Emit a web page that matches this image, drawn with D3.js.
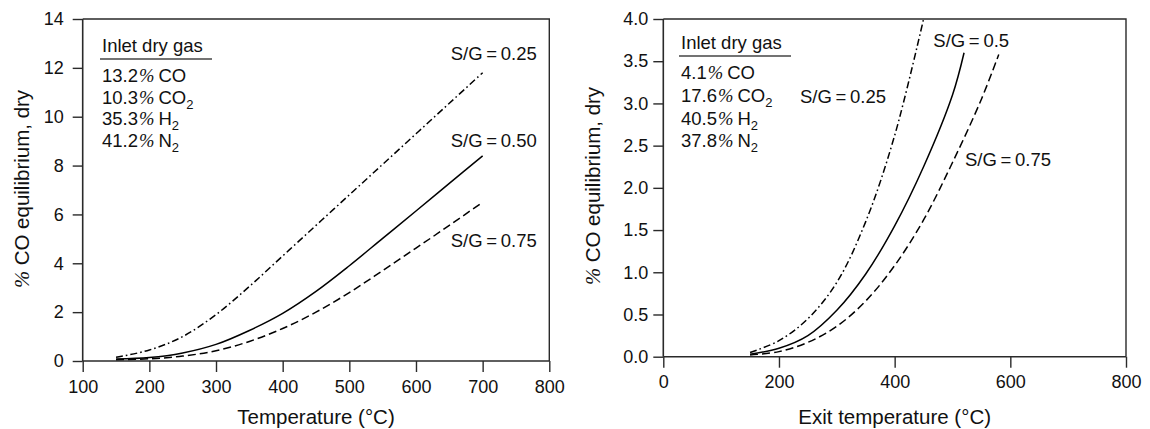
<!DOCTYPE html>
<html><head><meta charset="utf-8">
<script src="https://cdn.jsdelivr.net/npm/d3@7"></script>
<style>
body{margin:0;background:#fff;}
svg text{font-family:"Liberation Sans",Arial,Helvetica,sans-serif;fill:#111;}
</style></head>
<body><svg id="c" width="1150" height="429"></svg>
<script>
// ---------- data ----------
const leftTemps = [150,200,250,300,350,400,450,500,550,600,650,700];
const leftSG025 = [0.15,0.45,1.0,1.9,3.05,4.3,5.55,6.8,8.05,9.3,10.55,11.8];
const leftSG050 = [0.08,0.14,0.33,0.68,1.25,1.95,2.85,3.9,5.02,6.14,7.27,8.4];
const leftSG075 = [0.05,0.09,0.2,0.42,0.8,1.33,2.0,2.8,3.7,4.62,5.55,6.5];

const rightTemps025 = [150,200,250,300,350,400,450];
const rightSG025 = [0.05,0.19,0.45,0.88,1.6,2.62,4.0];
const rightTemps050 = [150,200,250,300,350,400,450,500,520];
const rightSG050 = [0.03,0.1,0.25,0.55,0.98,1.55,2.25,3.1,3.6];
const rightTemps075 = [150,200,250,300,350,400,450,500,550,580];
const rightSG075 = [0.02,0.06,0.17,0.36,0.66,1.08,1.62,2.3,3.05,3.58];

const leftXTicks = [100,200,300,400,500,600,700,800];
const leftYTicks = [0,2,4,6,8,10,12,14];
const rightXTicks = [0,200,400,600,800];
const rightYTicks = [0,0.5,1,1.5,2,2.5,3,3.5,4];

const leftGas = [["13.2","CO",""],["10.3","CO","2"],["35.3","H","2"],["41.2","N","2"]];
const rightGas = [["4.1","CO",""],["17.6","CO","2"],["40.5","H","2"],["37.8","N","2"]];

const leftLabels = ["S/G\u2009=\u20090.25","S/G\u2009=\u20090.50","S/G\u2009=\u20090.75"];
const rightLabels = ["S/G\u2009=\u20090.25","S/G\u2009=\u20090.5","S/G\u2009=\u20090.75"];

// ---------- drawing ----------
const svg = d3.select("#c");
const dashes = {dd:"7,3,1.6,3", solid:null, dash:"8,4"};
const AX = "#2a2a2a";

function panel(cfg){
  const g = svg.append("g");
  const x = d3.scaleLinear().domain(cfg.xd).range(cfg.xr);
  const y = d3.scaleLinear().domain(cfg.yd).range(cfg.yr);
  g.append("path").attr("d",`M${cfg.xr[0]},${cfg.yr[1]}H${cfg.xr[1]}V${cfg.yr[0]}`)
    .attr("fill","none").attr("stroke",AX).attr("stroke-width",1.4);
  const xa = g.append("g").attr("transform",`translate(0,${cfg.yr[0]})`)
    .call(d3.axisBottom(x).tickValues(cfg.xt).tickSize(11).tickPadding(8).tickFormat(d3.format("d")));
  const ya = g.append("g").attr("transform",`translate(${cfg.xr[0]},0)`)
    .call(d3.axisLeft(y).tickValues(cfg.yt).tickSize(10).tickPadding(cfg.ypad).tickFormat(cfg.yf));
  [xa,ya].forEach(a=>{
    a.select(".domain").attr("stroke",AX).attr("stroke-width",1.6);
    a.selectAll(".tick line").attr("stroke",AX).attr("stroke-width",1.4);
    a.selectAll(".tick text").attr("font-size","18px").attr("fill","#111")
      .attr("font-family","'Liberation Sans',Arial,sans-serif");
  });
  ya.select(".domain").attr("d",`M0,${cfg.yr[0]}V${cfg.yr[1]}`);
  xa.select(".domain").attr("d",`M${cfg.xr[0]},0H${cfg.xr[1]}`);
  const line = d3.line().x(d=>x(d[0])).y(d=>y(d[1])).curve(d3.curveCatmullRom.alpha(0.5));
  cfg.series.forEach(s=>{
    const pts = s.t.map((t,i)=>[t,s.v[i]]);
    g.append("path").attr("d",line(pts)).attr("fill","none").attr("stroke","#000")
      .attr("stroke-width",1.5).attr("stroke-dasharray",dashes[s.style]);
  });
  g.append("text").attr("x",(cfg.xr[0]+cfg.xr[1])/2).attr("y",424).attr("text-anchor","middle")
    .attr("font-size","20.5px").text(cfg.xtitle);
  const yt = g.append("text").attr("transform",`translate(${cfg.ytx},${cfg.yty}) rotate(-90)`)
    .attr("text-anchor","middle").attr("font-size","20.5px");
  yt.append("tspan").attr("font-family","'Liberation Serif',serif").attr("font-style","italic").text("%");
  yt.append("tspan").text(" CO equilibrium, dry");
  const lg = g.append("g");
  lg.append("text").attr("x",cfg.lx).attr("y",cfg.ly).attr("font-size","18.5px").text("Inlet dry gas");
  lg.append("line").attr("x1",cfg.lx-2).attr("x2",cfg.lx+110).attr("y1",cfg.ly+7).attr("y2",cfg.ly+7)
    .attr("stroke","#444").attr("stroke-width",1.6);
  cfg.gas.forEach((r,i)=>{
    const t = lg.append("text").attr("x",cfg.lx).attr("y",cfg.ly+30+i*cfg.lstep).attr("font-size","18.5px");
    t.append("tspan").text(r[0]);
    t.append("tspan").attr("font-family","'Liberation Serif',serif").attr("font-style","italic").attr("dx",1).text("%");
    t.append("tspan").attr("dx",4).text(r[1]);
    if(r[2]) t.append("tspan").attr("font-size","13px").attr("dy",5).text(r[2]);
  });
  cfg.labels.forEach(l=>{
    g.append("text").attr("x",l[0]).attr("y",l[1]).attr("font-size","18.5px").text(l[2]);
  });
}

panel({
  xd:[100,800], xr:[82.7,549.3], yd:[0,14], yr:[361,19],
  xt:leftXTicks, yt:leftYTicks, yf:d3.format("d"), ypad:9,
  series:[{t:leftTemps,v:leftSG025,style:"dd"},{t:leftTemps,v:leftSG050,style:"solid"},{t:leftTemps,v:leftSG075,style:"dash"}],
  xtitle:"Temperature (\u00b0C)", ytx:29, yty:189,
  lx:102, ly:52, lstep:21.5, gas:leftGas,
  labels:[[450.7,59.5,leftLabels[0]],[450.7,146.7,leftLabels[1]],[450.7,247,leftLabels[2]]]
});
panel({
  xd:[0,800], xr:[663.3,1126], yd:[0,4], yr:[356.7,19],
  xt:rightXTicks, yt:rightYTicks, yf:d3.format(".1f"), ypad:5,
  series:[{t:rightTemps025,v:rightSG025,style:"dd"},{t:rightTemps050,v:rightSG050,style:"solid"},{t:rightTemps075,v:rightSG075,style:"dash"}],
  xtitle:"Exit temperature (\u00b0C)", ytx:600, yty:186,
  lx:681, ly:49, lstep:22.8, gas:rightGas,
  labels:[[800,103,rightLabels[0]],[933.3,46.7,rightLabels[1]],[965,166,rightLabels[2]]]
});
</script></body></html>
